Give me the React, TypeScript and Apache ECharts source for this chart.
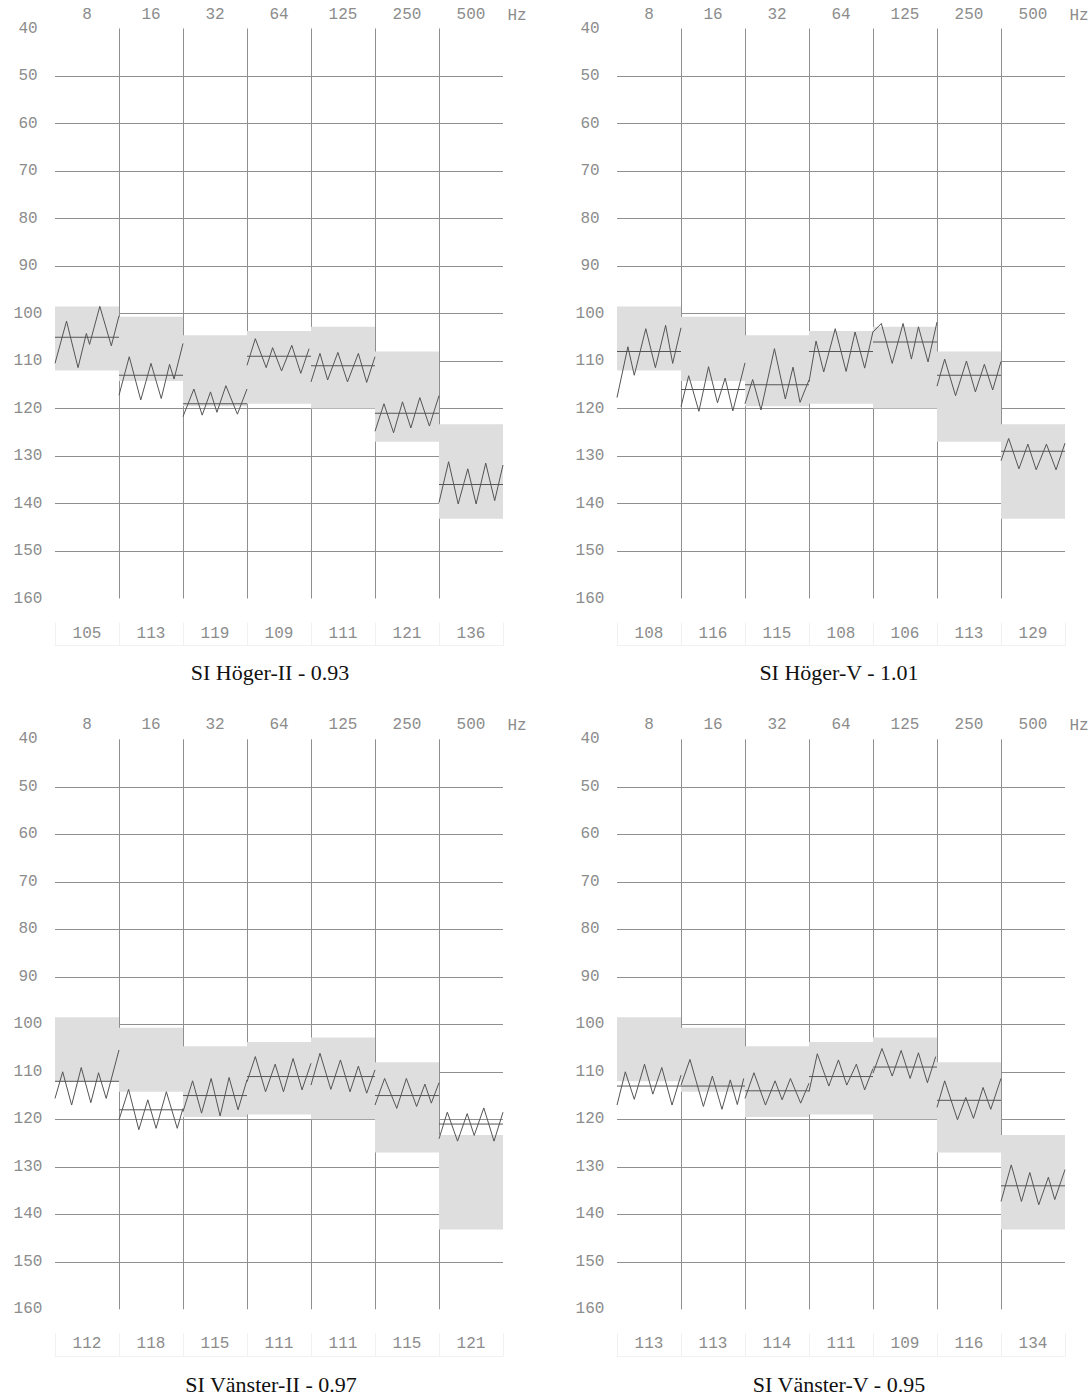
import React, { useEffect, useRef } from "react";
import * as echarts from "echarts";

const FREQS = ["8", "16", "32", "64", "125", "250", "500"];
const Y_TICKS_MIN = 40;
const Y_TICKS_MAX = 160;
const NORM_LOW = [98.5, 100.7, 104.6, 103.7, 102.8, 108, 123.3];
const NORM_HIGH = [112, 114.2, 119.5, 119, 120, 127, 143.2];

const TITLES = ["SI Höger-II - 0.93", "SI Höger-V - 1.01", "SI Vänster-II - 0.97", "SI Vänster-V - 0.95"];

const hogerIIMedian = [105, 113, 119, 109, 111, 121, 136];
const hogerIIZig = [
  [110.5, 101.6, 111.4, 104.2, 106.5, 98.5, 106.8, 100.5],
  [117.2, 109.1, 118.2, 110.5, 117.9, 110.7, 113.8, 106.3],
  [121.7, 115.9, 121.4, 116.5, 120.8, 115.2, 121.2, 115.9],
  [110.9, 105.3, 111.4, 107.2, 112.1, 106.7, 112.6, 107.4],
  [114.4, 108.4, 114.0, 108.2, 114.4, 108.4, 114.5, 109.1],
  [124.8, 119.0, 125.1, 118.6, 124.1, 117.7, 123.7, 117.3],
  [139.8, 131.2, 140.1, 132.7, 140.1, 131.5, 139.4, 131.9],
];
const hogerIIZigX = [
  [0, 0.18, 0.36, 0.49, 0.54, 0.7, 0.88, 1],
  [0, 0.16, 0.34, 0.5, 0.66, 0.79, 0.86, 1],
  [0, 0.17, 0.3, 0.43, 0.53, 0.67, 0.85, 1],
  [0, 0.13, 0.3, 0.4, 0.54, 0.7, 0.84, 0.97],
  [0, 0.14, 0.26, 0.42, 0.57, 0.74, 0.87, 1],
  [0, 0.14, 0.29, 0.43, 0.56, 0.7, 0.85, 1],
  [0, 0.15, 0.3, 0.45, 0.58, 0.73, 0.87, 1],
];

const hogerVMedian = [108, 116, 115, 108, 106, 113, 129];
const hogerVZig = [
  [117.7, 107.0, 113.0, 103.2, 111.4, 102.5, 110.5, 103.0],
  [119.6, 113.1, 120.6, 111.2, 118.8, 113.6, 120.5, 110.4],
  [119.0, 113.9, 120.3, 107.4, 118.0, 111.3, 118.7, 114.0],
  [114.4, 105.8, 112.3, 103.2, 112.2, 103.9, 111.5, 103.8],
  [103.9, 102.1, 110.5, 102.1, 109.6, 102.8, 110.2, 101.8],
  [115.3, 109.6, 117.3, 110.0, 116.5, 110.7, 116.1, 110.1],
  [131.0, 126.3, 132.7, 127.5, 132.9, 127.5, 132.9, 127.3],
];
const hogerVZigX = [
  [0, 0.17, 0.27, 0.45, 0.6, 0.76, 0.87, 1],
  [0, 0.12, 0.28, 0.43, 0.57, 0.69, 0.81, 1],
  [0, 0.12, 0.25, 0.46, 0.63, 0.75, 0.86, 1],
  [0, 0.11, 0.23, 0.41, 0.58, 0.72, 0.87, 1],
  [0, 0.13, 0.3, 0.47, 0.6, 0.71, 0.86, 1],
  [0, 0.12, 0.29, 0.46, 0.6, 0.74, 0.87, 1],
  [0, 0.12, 0.28, 0.42, 0.55, 0.71, 0.86, 1],
];

const vansterIIMedian = [112, 118, 115, 111, 111, 115, 121];
const vansterIIZig = [
  [115.6, 110.0, 117.0, 109.1, 116.5, 110.2, 115.6, 105.4],
  [120.1, 113.7, 122.2, 115.9, 121.9, 114.2, 121.9, 117.7],
  [118.4, 111.9, 118.7, 111.4, 119.3, 111.2, 118.0, 111.7],
  [112.1, 106.8, 114.2, 108.4, 114.2, 107.2, 113.8, 108.2],
  [112.8, 106.1, 113.7, 107.5, 114.2, 108.8, 114.5, 109.6],
  [117.0, 111.4, 117.7, 111.4, 117.3, 112.6, 116.6, 112.3],
  [124.1, 118.5, 124.6, 118.8, 123.4, 117.6, 124.6, 118.5],
];
const vansterIIZigX = [
  [0, 0.12, 0.26, 0.41, 0.56, 0.68, 0.8, 1],
  [0, 0.15, 0.31, 0.45, 0.58, 0.74, 0.91, 1],
  [0, 0.15, 0.29, 0.44, 0.58, 0.72, 0.86, 1],
  [0, 0.13, 0.29, 0.44, 0.57, 0.72, 0.86, 1],
  [0, 0.14, 0.31, 0.46, 0.61, 0.74, 0.87, 1],
  [0, 0.15, 0.34, 0.49, 0.65, 0.78, 0.88, 1],
  [0, 0.13, 0.29, 0.44, 0.55, 0.7, 0.86, 1],
];

const vansterVMedian = [113, 113, 114, 111, 109, 116, 134];
const vansterVZig = [
  [117.0, 110.0, 115.8, 108.4, 114.7, 109.1, 117.0, 110.7],
  [112.8, 107.4, 117.3, 110.9, 117.9, 111.7, 116.9, 111.4],
  [115.6, 110.2, 117.0, 111.9, 115.9, 111.4, 116.6, 112.4],
  [114.2, 106.2, 113.0, 107.5, 112.8, 108.4, 113.8, 109.3],
  [110.3, 105.1, 110.9, 105.5, 111.4, 106.0, 112.3, 106.8],
  [117.5, 111.9, 120.1, 115.4, 119.8, 113.3, 117.9, 111.4],
  [137.3, 129.6, 137.3, 131.2, 138.0, 132.2, 136.9, 130.6],
];
const vansterVZigX = [
  [0, 0.13, 0.27, 0.43, 0.56, 0.7, 0.86, 1],
  [0, 0.14, 0.35, 0.49, 0.64, 0.77, 0.88, 0.98],
  [0, 0.14, 0.32, 0.47, 0.58, 0.71, 0.87, 1],
  [0, 0.13, 0.31, 0.46, 0.59, 0.74, 0.87, 1],
  [0, 0.14, 0.3, 0.44, 0.58, 0.71, 0.85, 0.98],
  [0, 0.12, 0.32, 0.45, 0.57, 0.72, 0.84, 1],
  [0, 0.16, 0.32, 0.45, 0.59, 0.74, 0.84, 1],
];

const CHARTS = [
  { median: hogerIIMedian, zig: hogerIIZig, zigX: hogerIIZigX },
  { median: hogerVMedian, zig: hogerVZig, zigX: hogerVZigX },
  { median: vansterIIMedian, zig: vansterIIZig, zigX: vansterIIZigX },
  { median: vansterVMedian, zig: vansterVZig, zigX: vansterVZigX },
];

const GRID_POS = [
  { left: 55, top: 28.5 },
  { left: 617, top: 28.5 },
  { left: 55, top: 739.3 },
  { left: 617, top: 739.3 },
];
const GRID_W = 448;
const GRID_H = 570;
const TITLE_POS = [
  { x: 270, y: 672 },
  { x: 839, y: 672 },
  { x: 271, y: 1384 },
  { x: 839, y: 1384 },
];

const MONO = "Liberation Mono";
const MONO_SIZE = 16;
const LABEL_COLOR = "#8c8c8c";
const GRID_COLOR = "#8f8f8f";
const BAND_COLOR = "#dedede";
const LINE_COLOR = "#555555";
const BOX_COLOR = "#f1f1f1";

export default function App() {
  const ref = useRef<HTMLDivElement>(null);
  useEffect(() => {
    if (!ref.current) return;
    const chart = echarts.init(ref.current, undefined, { renderer: "svg" });

    const grid: any[] = [];
    const xAxis: any[] = [];
    const yAxis: any[] = [];
    const series: any[] = [];
    const graphic: any[] = [];

    CHARTS.forEach((c, g) => {
      const pos = GRID_POS[g];
      grid.push({ left: pos.left, top: pos.top, width: GRID_W, height: GRID_H, containLabel: false });
      xAxis.push({
        type: "value",
        gridIndex: g,
        min: 0,
        max: 7,
        interval: 1,
        position: "bottom",
        axisLine: { show: false },
        axisTick: { show: false },
        axisLabel: { show: false },
        splitLine: { show: true, showMinLine: false, showMaxLine: false, lineStyle: { color: GRID_COLOR, width: 1 } },
      });
      xAxis.push({
        type: "category",
        gridIndex: g,
        position: "top",
        data: FREQS,
        boundaryGap: true,
        axisLine: { show: false },
        axisTick: { show: false },
        splitLine: { show: false },
        axisLabel: { margin: 6, color: LABEL_COLOR, fontFamily: MONO, fontSize: MONO_SIZE },
      });
      // bottom median value labels in faint boxes
      xAxis.push({
        type: "category",
        gridIndex: g,
        position: "bottom",
        offset: 47,
        data: c.median.map((v) => String(v)),
        boundaryGap: true,
        axisLine: { show: true, lineStyle: { color: BOX_COLOR, width: 1 } },
        axisTick: { show: true, inside: true, length: 23, interval: 0, lineStyle: { color: BOX_COLOR } },
        splitLine: { show: false },
        axisLabel: { inside: true, margin: 4, color: LABEL_COLOR, fontFamily: MONO, fontSize: MONO_SIZE },
      });
      yAxis.push({
        type: "value",
        gridIndex: g,
        inverse: true,
        min: Y_TICKS_MIN,
        max: Y_TICKS_MAX,
        interval: 10,
        axisLine: { show: false },
        axisTick: { show: false },
        axisLabel: { margin: 27, align: "center", color: LABEL_COLOR, fontFamily: MONO, fontSize: MONO_SIZE },
        splitLine: { show: true, showMinLine: false, showMaxLine: false, lineStyle: { color: GRID_COLOR, width: 1 } },
      });

      const xIdx = g * 3;
      series.push({
        type: "custom",
        xAxisIndex: xIdx,
        yAxisIndex: g,
        z: 2,
        silent: true,
        data: NORM_LOW.map((lo, i) => [i, lo, NORM_HIGH[i]]),
        renderItem: (params: any, api: any) => {
          const i = api.value(0);
          const p1 = api.coord([i, api.value(1)]);
          const p2 = api.coord([i + 1, api.value(2)]);
          return {
            type: "rect",
            shape: { x: p1[0], y: Math.min(p1[1], p2[1]), width: p2[0] - p1[0], height: Math.abs(p2[1] - p1[1]) },
            style: { fill: BAND_COLOR },
          };
        },
      });
      series.push({
        type: "custom",
        xAxisIndex: xIdx,
        yAxisIndex: g,
        z: 3,
        silent: true,
        data: c.median.map((v, i) => [i, v]),
        renderItem: (params: any, api: any) => {
          const i = api.value(0);
          const p1 = api.coord([i, api.value(1)]);
          const p2 = api.coord([i + 1, api.value(1)]);
          return {
            type: "line",
            shape: { x1: p1[0], y1: p1[1], x2: p2[0], y2: p2[1] },
            style: { stroke: LINE_COLOR, lineWidth: 1 },
          };
        },
      });
      c.zig.forEach((vals, col) => {
        series.push({
          type: "line",
          xAxisIndex: xIdx,
          yAxisIndex: g,
          z: 4,
          silent: true,
          showSymbol: false,
          symbol: "none",
          lineStyle: { color: LINE_COLOR, width: 1 },
          data: vals.map((v, k) => [col + c.zigX[col][k], v]),
        });
      });

      graphic.push({
        type: "text",
        x: pos.left + GRID_W + 14,
        y: pos.top - 13,
        style: { text: "Hz", font: `${MONO_SIZE}px "${MONO}"`, fill: LABEL_COLOR, textAlign: "center", textVerticalAlign: "middle" },
      });
      graphic.push({
        type: "text",
        x: TITLE_POS[g].x,
        y: TITLE_POS[g].y,
        style: {
          text: TITLES[g],
          font: `22px "Liberation Serif"`,
          fill: "#111",
          textAlign: "center",
          textVerticalAlign: "middle",
        },
      });
    });

    chart.setOption({
      animation: false,
      backgroundColor: "#ffffff",
      grid,
      xAxis,
      yAxis,
      series,
      graphic,
    });
    return () => chart.dispose();
  }, []);

  return <div ref={ref} style={{ position: "absolute", left: 0, top: 0, width: 1090, height: 1397 }} />;
}
